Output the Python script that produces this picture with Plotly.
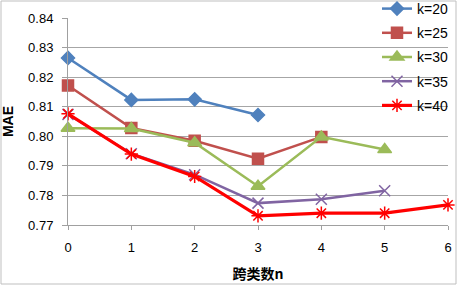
import plotly.graph_objects as go

x_vals = [0, 1, 2, 3, 4, 5, 6]
k20 = [0.8265, 0.8123, 0.8125, 0.8072]
k25 = [0.8172, 0.8028, 0.7985, 0.7924, 0.7998]
k30 = [0.8027, 0.8026, 0.7978, 0.7831, 0.7998, 0.7955]
k35 = [0.8074, 0.7941, 0.7870, 0.7774, 0.7787, 0.7816]
k40 = [0.8076, 0.7940, 0.7864, 0.7731, 0.7740, 0.7740, 0.7768]
names = ["k=20", "k=25", "k=30", "k=35", "k=40"]
y_ticks = [0.77, 0.78, 0.79, 0.80, 0.81, 0.82, 0.83, 0.84]

series = [k20, k25, k30, k35, k40]
colors = ["#4F81BD", "#C0504D", "#9BBB59", "#8064A2", "#FF0000"]
symbols = ["diamond", "square", "triangle-up", "x-thin-open", "asterisk-open"]
widths = [2.5, 2.5, 2.5, 2.5, 3.2]
msizes = [10, 11, 12, 11, 11]

fig = go.Figure()
for i, (nm, ys) in enumerate(zip(names, series)):
    fig.add_trace(go.Scatter(
        x=x_vals[:len(ys)], y=ys, name=nm, mode="lines+markers",
        line=dict(color=colors[i], width=widths[i]),
        marker=dict(symbol=symbols[i], size=msizes[i], color=colors[i],
                    line=dict(color=colors[i], width=1.5)),
        cliponaxis=False, legendgroup=nm,
    ))

fig.update_layout(
    width=458, height=286,
    margin=dict(l=68, r=10, t=18, b=61, autoexpand=False),
    paper_bgcolor="white", plot_bgcolor="white",
    font=dict(family="Liberation Sans, Arial, sans-serif", size=13, color="black"),
    showlegend=True,
    legend=dict(xref="paper", yref="paper",
                x=(377 - 68) / 380, y=(225 + 7) / 207, xanchor="left", yanchor="top",
                bgcolor="rgba(0,0,0,0)", font=dict(size=14),
                tracegroupgap=3),
    xaxis=dict(range=[0, 6], tickvals=x_vals, showgrid=False,
               showline=True, linecolor="#A0A0A0", linewidth=1,
               ticks="outside", ticklen=4, tickcolor="#A0A0A0",
               ticklabelstandoff=6,
               zeroline=False, automargin=False,
               title=dict(text="<b>跨类数n</b>", font=dict(size=14,
                          family="Noto Sans CJK SC, sans-serif"), standoff=15)),
    yaxis=dict(range=[0.77, 0.84], tickvals=y_ticks, tickformat=".2f",
               showgrid=True, gridcolor="#A6A6A6", gridwidth=1,
               showline=True, linecolor="#A0A0A0", linewidth=1,
               ticks="outside", ticklen=5, tickcolor="#A0A0A0",
               ticklabelstandoff=6,
               zeroline=False, automargin=False,
               title=dict(text="<b>MAE</b>", font=dict(size=14), standoff=12)),
)
fig.add_shape(type="rect", xref="paper", yref="paper",
              x0=(1 - 68) / 380, x1=(456 - 68) / 380,
              y0=(225 - 284) / 207, y1=(225 - 1) / 207,
              line=dict(color="#BFBFBF", width=1), layer="below")

fig.write_html("out.html", config={"displayModeBar": False},
               post_script="document.body.style.margin='0';document.body.style.padding='0';")
